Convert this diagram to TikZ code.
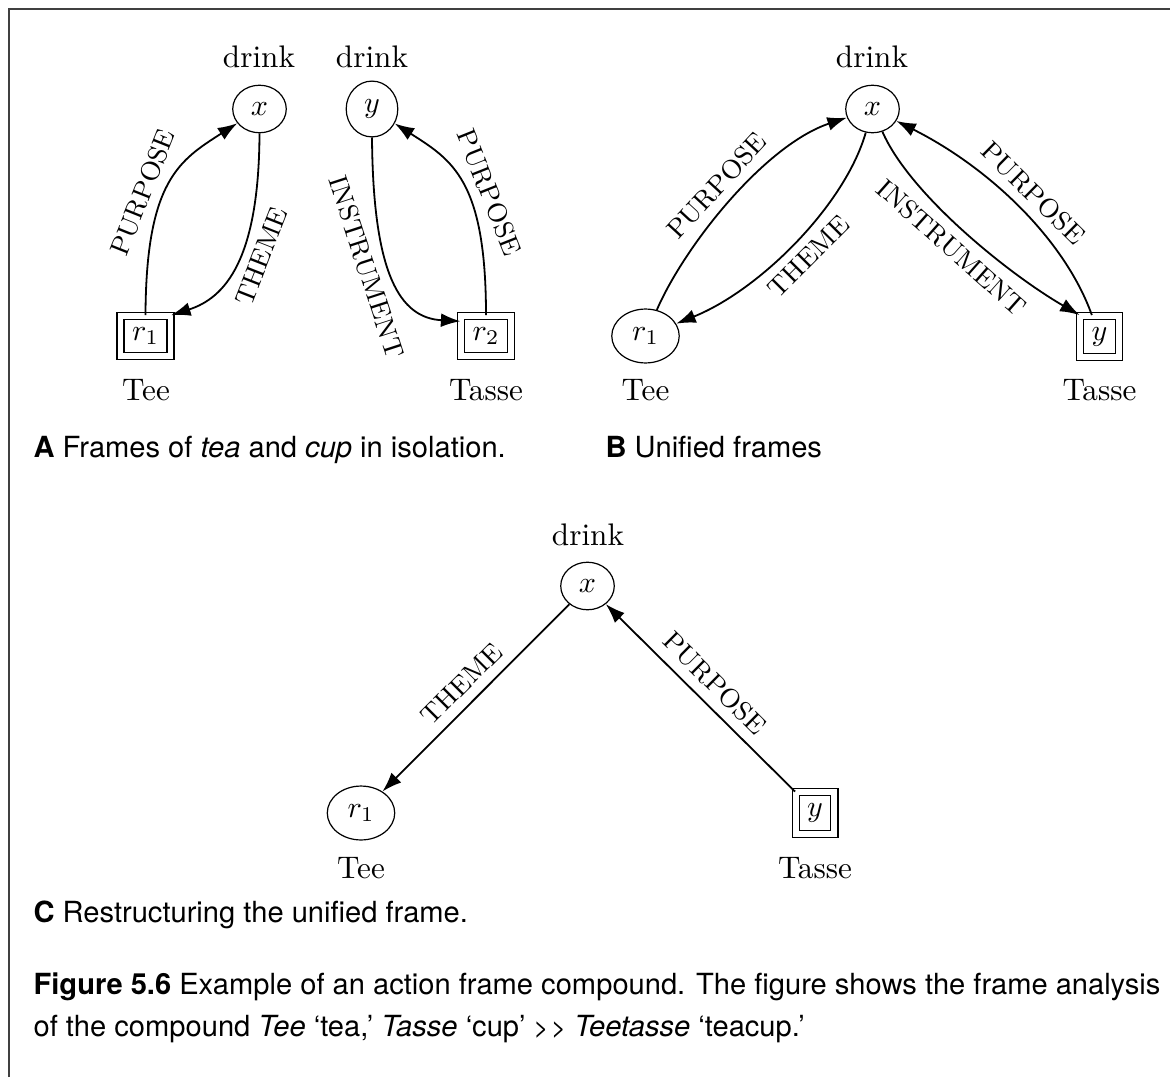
\documentclass[tikz,border=0pt]{standalone}
\usepackage{fontspec}
\setsansfont{TeX Gyre Heros}
\usetikzlibrary{arrows.meta,shapes.geometric}

\begin{document}
\begin{tikzpicture}[x=0.3333pt,y=-0.3333pt,
  every node/.style={font=\fontsize{10.4}{12.5}\selectfont},
  role/.style={ellipse, draw, line width=0.4pt, inner sep=3.45pt},
  refbox/.style={draw, line width=0.45pt, double, double distance=1.9pt, inner sep=3.8pt},
  word/.style={anchor=base, inner sep=0pt},
  rel/.style={line width=0.6pt, -{Latex[length=6.5pt,width=4.6pt]}},
  lab/.style={font=\fontsize{8.9}{10}\selectfont, sloped, inner sep=3.3pt},
  captext/.style={anchor=base west, inner sep=0pt, font=\sffamily\fontsize{9.7}{14}\selectfont},
]
\useasboundingbox (0,0) rectangle (1170,1077);

% open frame: left and top rules
\draw[black!75, line width=0.5pt] (9,1077) -- (9,9) -- (1170,9);

% ---------- A: frames of Tee and Tasse in isolation ----------
\node[word] (dA1) at (259,68) {drink};
\node[role] (xA) at (259.5,109) {$x$};
\node[word] (dA2) at (372,68) {drink};
\node[role] (yA) at (372,109) {$y$};
\node[refbox] (r1A) at (145.5,336) {$r_1$};
\node[refbox] (r2A) at (486,336) {$r_2$};
\node[word] (teeA) at (146,400) {Tee};
\node[word] (tasseA) at (486,400) {Tasse};

\draw[rel] (r1A.north) .. controls (146,180) and (180,160) .. (xA)
  node[lab, pos=0.4, above] {PURPOSE};
\draw[rel] (xA.south) .. controls (259,260) and (225,298) .. (r1A.north east)
  node[lab, pos=0.41, below] {THEME};
\draw[rel] (yA.south) .. controls (373,275) and (400,318) .. (r2A.150)
  node[lab, pos=0.4, below] {INSTRUMENT};
\draw[rel] (r2A.north) .. controls (486,180) and (452,160) .. (yA)
  node[lab, pos=0.4, above] {PURPOSE};

% ---------- B: unified frames ----------
\node[word] (dB) at (872,68) {drink};
\node[role] (xB) at (872.5,109) {$x$};
\node[role] (r1B) at (645.5,336) {$r_1$};
\node[refbox] (yB) at (1099.5,336.5) {$y$};
\node[word] (teeB) at (645.5,400) {Tee};
\node[word] (tasseB) at (1099.5,400) {Tasse};

\draw[rel] (r1B) .. controls (685,245) and (765,145) .. (xB)
  node[lab, pos=0.5, above] {PURPOSE};
\draw[rel] (xB) .. controls (845,205) and (760,290) .. (r1B)
  node[lab, pos=0.5, below] {THEME};
\draw[rel] (xB) .. controls (910,195) and (1010,275) .. (yB.north west)
  node[lab, pos=0.5, below] {INSTRUMENT};
\draw[rel] (yB) .. controls (1065,240) and (990,168) .. (xB)
  node[lab, pos=0.5, above] {PURPOSE};

% ---------- C: restructured frame ----------
\node[word] (dC) at (588,545) {drink};
\node[role] (xC) at (587.5,586) {$x$};
\node[role] (r1C) at (361,813) {$r_1$};
\node[refbox] (yC) at (815,813) {$y$};
\node[word] (teeC) at (361,878) {Tee};
\node[word] (tasseC) at (815,878) {Tasse};

\draw[rel] (xC) -- (r1C) node[lab, midway, above] {THEME};
\draw[rel] (yC.north west) -- (xC) node[lab, midway, above] {PURPOSE};

% ---------- captions ----------
\node[captext] (capA) at (33,457) {\textbf{A} Frames of \textit{tea} and \textit{cup} in isolation.};
\node[captext] (capB) at (605,457) {\textbf{B} Unified frames};
\node[captext] (capC) at (33,922) {\textbf{C} Restructuring the unified frame.};
\node[captext] (capF1) at (33,994) {\textbf{Figure 5.6} Example of an action frame compound. The figure shows the frame analysis};
\node[captext] (capF2) at (33,1036) {of the compound \textit{Tee} `tea,' \textit{Tasse} `cup' {\fontsize{8.6}{9}\selectfont >\kern0.8pt>} \textit{Teetasse} `teacup.'};
\end{tikzpicture}
\end{document}
